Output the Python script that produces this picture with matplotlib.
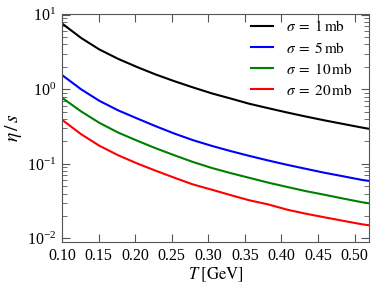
import numpy as np
import matplotlib
matplotlib.use("Agg")
import matplotlib.pyplot as plt

plt.rcParams['font.family'] = ['Liberation Serif', 'DejaVu Serif']
plt.rcParams['mathtext.fontset'] = 'stix'

# temperature [GeV] and eta/s
T = [0.100, 0.126, 0.151, 0.177, 0.203, 0.228, 0.254, 0.279, 0.305,
     0.331, 0.356, 0.382, 0.408, 0.433, 0.459, 0.485, 0.510, 0.520]
eta_s_1mb = [7.62, 4.88, 3.42, 2.55, 1.98, 1.58, 1.28, 1.06, 0.88,
             0.75, 0.64, 0.558, 0.488, 0.432, 0.383, 0.342, 0.307, 0.295]
eta_s_5mb = [1.55, 1.0, 0.70, 0.52, 0.405, 0.32, 0.254, 0.208, 0.174,
             0.148, 0.128, 0.111, 0.097, 0.086, 0.076, 0.068, 0.061, 0.059]
eta_s_10mb = [0.77, 0.505, 0.355, 0.262, 0.204, 0.162, 0.13, 0.106, 0.088,
              0.075, 0.065, 0.056, 0.049, 0.0432, 0.0385, 0.0342, 0.0306, 0.0296]
eta_s_20mb = [0.39, 0.25, 0.175, 0.13, 0.101, 0.081, 0.065, 0.053, 0.045,
              0.038, 0.0325, 0.0286, 0.0243, 0.0215, 0.0192, 0.0172, 0.0155, 0.015]

labels = [r'$\sigma\;=\;1\,\mathrm{mb}$', r'$\sigma\;=\;5\,\mathrm{mb}$',
          r'$\sigma\;=\;10\,\mathrm{mb}$', r'$\sigma\;=\;20\,\mathrm{mb}$']
colors = ['black', 'blue', 'green', 'red']
x_ticks = [0.10, 0.15, 0.20, 0.25, 0.30, 0.35, 0.40, 0.45, 0.50]

fig = plt.figure(figsize=(3.74, 2.87), dpi=100)
ax = fig.add_axes([0.166, 0.156, 0.821, 0.795])

for ys, c, lab in zip([eta_s_1mb, eta_s_5mb, eta_s_10mb, eta_s_20mb], colors, labels):
    ax.plot(T, ys, color=c, lw=1.5, label=lab)

ax.set_yscale('log')
ax.set_xlim(0.1, 0.52)
ax.set_ylim(0.0089, 10.2)
ax.set_xticks(x_ticks)
ax.set_xticklabels(['%.2f' % v for v in x_ticks])

ax.set_xlabel(r'$T\;[\mathrm{GeV}]$', fontsize=12, labelpad=1)
ax.set_ylabel(r'$\eta\,/\,s$', fontsize=14, labelpad=2)

for sp in ax.spines.values():
    sp.set_color('#555555')
ax.tick_params(which='both', direction='in', top=True, right=True,
               color='#555555', labelsize=11.5)
ax.tick_params(which='major', length=6, pad=4)
ax.tick_params(which='minor', length=3.5)
ax.tick_params(axis='x', which='minor', bottom=False, top=False)

ax.legend(loc='upper right', bbox_to_anchor=(0.965, 1.003), frameon=False,
          fontsize=11, handlelength=1.5, handletextpad=0.8,
          labelspacing=0.4, borderaxespad=0.0)

fig.savefig('out.png', dpi=100)
